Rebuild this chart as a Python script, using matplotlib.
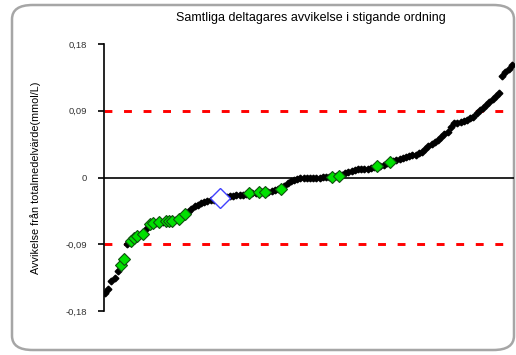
import matplotlib.pyplot as plt
from matplotlib.patches import FancyBboxPatch

# deviation from total mean, sorted ascending (mmol/L)
values = [
    -0.156, -0.150, -0.139, -0.136, -0.126, -0.118, -0.110, -0.090, -0.085, -0.082,
    -0.079, -0.078, -0.076, -0.068, -0.063, -0.061, -0.061, -0.060, -0.060, -0.059,
    -0.059, -0.058, -0.057, -0.056, -0.052, -0.049, -0.046, -0.042, -0.039, -0.037,
    -0.035, -0.033, -0.032, -0.031, -0.030, -0.029, -0.028, -0.027, -0.026, -0.025,
    -0.025, -0.024, -0.023, -0.023, -0.022, -0.021, -0.021, -0.021, -0.020, -0.020,
    -0.020, -0.019, -0.018, -0.017, -0.016, -0.015, -0.012, -0.008, -0.005, -0.004,
    -0.002, -0.001, -0.001, 0.000, 0.000, 0.000, 0.000, 0.000, 0.001, 0.001,
    0.001, 0.001, 0.002, 0.002, 0.004, 0.006, 0.008, 0.009, 0.010, 0.011,
    0.011, 0.012, 0.012, 0.013, 0.014, 0.015, 0.016, 0.017, 0.019, 0.021,
    0.022, 0.024, 0.025, 0.026, 0.027, 0.029, 0.030, 0.031, 0.033, 0.035,
    0.039, 0.042, 0.045, 0.048, 0.050, 0.055, 0.058, 0.061, 0.068, 0.073,
    0.074, 0.075, 0.076, 0.078, 0.080, 0.082, 0.087, 0.091, 0.094, 0.098,
    0.102, 0.106, 0.110, 0.114, 0.137, 0.142, 0.146, 0.152,
]
# ranks (1-based) of highlighted participants
green_idx = [6, 7, 9, 10, 11, 13, 15, 16, 18, 20, 21, 22, 24, 26, 46, 49, 51, 56, 72, 74, 86, 90]
blue_idx = [37]
limit = 0.09

x = list(range(1, len(values) + 1))

fig = plt.figure(figsize=(5.16, 3.55), dpi=100)
fig.patch.set_facecolor("white")

frame = FancyBboxPatch((12 / 516, 5 / 355), 502 / 516, 345 / 355,
                       boxstyle="round,pad=0,rounding_size=0.04",
                       transform=fig.transFigure, facecolor="none",
                       edgecolor="#a6a6a6", linewidth=1.8, zorder=-1)
fig.patches.append(frame)

ax = fig.add_axes([104 / 516, 1 - 311 / 355, 410 / 516, 267 / 355])
ax.set_facecolor("none")

ax.axhline(0, color="black", lw=1.2, zorder=1)
for lv in (limit, -limit):
    ax.axhline(lv, color="#ff0000", lw=2.1, dashes=(2.7, 4.0), zorder=1)

ax.plot(x, values, linestyle="none", marker="D", markersize=3.4,
        color="black", zorder=2)
gx = [x[i - 1] for i in green_idx]
gy = [values[i - 1] for i in green_idx]
ax.plot(gx, gy, linestyle="none", marker="D", markersize=6.5,
        markerfacecolor="#00e000", markeredgecolor="#105010", markeredgewidth=0.8, zorder=3)
bx = [x[i - 1] for i in blue_idx]
by = [values[i - 1] for i in blue_idx]
ax.plot(bx, by, linestyle="none", marker="D", markersize=10.5,
        markerfacecolor="white", markeredgecolor="#4040ff", markeredgewidth=1.0, zorder=4)

ax.set_xlim(0.69, 128.7)
ax.set_ylim(-0.18, 0.18)
ax.set_yticks([-0.18, -0.09, 0, 0.09, 0.18])
ax.set_yticklabels(["-0,18", "-0,09", "0", "0,09", "0,18"])
ax.set_xticks([])
for s in ("top", "right", "bottom"):
    ax.spines[s].set_visible(False)
ax.spines["left"].set_linewidth(1.2)
ax.tick_params(axis="y", direction="out", length=4, width=1.2,
               labelsize=6.8, labelcolor="#333333", pad=8)
for lab in ax.get_yticklabels():
    lab.set_family("Liberation Sans")

ax.set_ylabel("Avvikelse från totalmedelvärde(mmol/L)", fontsize=7.8,
              family="Liberation Sans", labelpad=18)
fig.text(311 / 516, 1 - 18 / 355, "Samtliga deltagares avvikelse i stigande ordning",
         ha="center", va="center", fontsize=9, family="Liberation Sans")

fig.savefig("out.png", dpi=100)
